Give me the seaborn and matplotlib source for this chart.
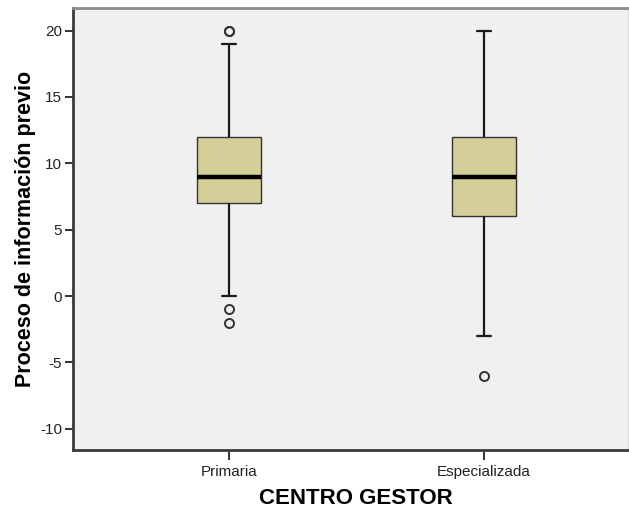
import matplotlib
matplotlib.use("Agg")
import matplotlib.pyplot as plt
import seaborn as sns
import pandas as pd

# Scores of the previous-information process by managing centre
primaria = [-2, -1, 0, 2, 4, 6, 7, 7, 8, 8, 9, 9, 9, 10, 10, 11, 11, 12, 12,
            13, 15, 17, 19, 20, 20]
especializada = [-6, -3, 1, 3, 5, 6, 7, 8, 8, 9, 9, 10, 10, 11, 12, 12, 14,
                 15, 17, 18, 20]
categories = ["Primaria", "Especializada"]
y_ticks = [-10, -5, 0, 5, 10, 15, 20]

df = pd.DataFrame({
    "centro": [categories[0]] * len(primaria) + [categories[1]] * len(especializada),
    "valor": primaria + especializada,
})

sns.set_style("ticks")
plt.rcParams["font.family"] = ["Liberation Sans", "DejaVu Sans"]

fig = plt.figure(figsize=(6.29, 5.15), dpi=100)
ax = fig.add_axes([73 / 629, 65 / 515, 555 / 629, 442 / 515])
ax.set_facecolor("#F0F0F0")

line_col = "#1a1a1a"
sns.boxplot(
    data=df, x="centro", y="valor", order=categories, ax=ax,
    color="#D4CF98", saturation=1, width=0.25, whis=1.5,
    linecolor=line_col, linewidth=1.4,
    capwidths=0.055,
    boxprops=dict(edgecolor="#333333", linewidth=1.0),
    medianprops=dict(color="black", linewidth=3.2),
    whiskerprops=dict(color=line_col, linewidth=1.6),
    capprops=dict(color=line_col, linewidth=1.6),
    flierprops=dict(marker="o", markersize=6.5, markerfacecolor="none",
                    markeredgecolor="#333333", markeredgewidth=1.4),
)

ax.set_xlim(-0.612, 1.565)
ax.set_ylim(-11.6, 21.7)
ax.set_yticks(y_ticks)
ax.set_yticklabels([str(t) for t in y_ticks], fontsize=11, color="#222222")
ax.tick_params(axis="x", labelsize=11, colors="#222222", length=7, width=1.3,
               direction="out", pad=4)
ax.tick_params(axis="y", length=6, width=1.3, direction="out", colors="#222222", pad=2)

ax.set_xlabel("CENTRO GESTOR", fontsize=16, fontweight="bold", color="black",
              labelpad=5)
ax.xaxis.set_label_coords(0.51, -0.085)
ax.set_ylabel("Proceso de información previo", fontsize=15.5, fontweight="bold",
              color="black", labelpad=3)

for side in ("left", "bottom"):
    ax.spines[side].set_color("#3a3a3a")
    ax.spines[side].set_linewidth(2)
ax.spines["top"].set_color("#8a8a8a")
ax.spines["top"].set_linewidth(2)
ax.spines["right"].set_color("#dcdcdc")
ax.spines["right"].set_linewidth(1)

fig.savefig("out.png", dpi=100, facecolor="white")
